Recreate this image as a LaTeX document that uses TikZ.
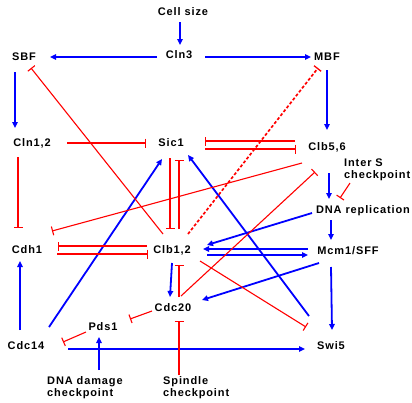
\documentclass[tikz,border=0pt]{standalone}
\usepackage{fontspec}
\setmainfont{Liberation Sans}[LetterSpace=8]
\usetikzlibrary{arrows.meta,calc}
\definecolor{actblue}{RGB}{0,0,255}
\definecolor{inhred}{RGB}{255,0,0}
\tikzset{
  lbl/.style={font=\fontsize{11}{12}\selectfont\bfseries, inner sep=0pt, align=left},
  act/.style={draw=actblue, line width=1.8pt, -{Triangle[length=6pt,width=5.5pt]}},
  inh/.style={draw=inhred, line width=1.1pt, -{Bar[width=9pt,line width=1.1pt]}},
  inhdash/.style={draw=inhred, line width=1.7pt, dash pattern=on 3pt off 2pt, -{Bar[width=9pt,line width=1.3pt]}},
}
\newcommand{\at}[3]{([shift={(#2,#3)}]#1)}
\begin{document}
\begin{tikzpicture}[x=1pt,y=-1pt]
\path[fill=white,use as bounding box] (0,0) rectangle (412,402);
% nodes
\node[lbl] (cs) at (183,12) {Cell size};
\node[lbl] (cln3) at (179,55) {Cln3};
\node[lbl] (sbf) at (24,57) {SBF};
\node[lbl] (mbf) at (327,57) {MBF};
\node[lbl] (cln12) at (32,143) {Cln1,2};
\node[lbl] (sic1) at (171,143) {Sic1};
\node[lbl] (clb56) at (327,147) {Clb5,6};
\node[lbl,anchor=west] (inters) at (344,170) {Inter S\\checkpoint};
\node[lbl] (dnarep) at (363,211) {DNA replication};
\node[lbl] (cdh1) at (27,250) {Cdh1};
\node[lbl] (clb12) at (172,250) {Clb1,2};
\node[lbl] (mcm1) at (348,251) {Mcm1/SFF};
\node[lbl] (cdc20) at (173,308) {Cdc20};
\node[lbl] (pds1) at (103,327) {Pds1};
\node[lbl] (cdc14) at (26,346) {Cdc14};
\node[lbl] (swi5) at (331,346) {Swi5};
\node[lbl,anchor=west] (dnad) at (47,388) {DNA damage\\checkpoint};
\node[lbl,anchor=west] (spin) at (163,388) {Spindle\\checkpoint};
% activations
\draw[act] \at{cs.center}{-3}{10} -- \at{cln3.center}{1}{-10};
\draw[act] \at{cln3.center}{-22}{2} -- \at{sbf.center}{26}{0};
\draw[act] \at{cln3.center}{26}{2} -- \at{mbf.center}{-16}{0};
\draw[act] \at{sbf.center}{-9}{15} -- \at{cln12.center}{-17}{-15};
\draw[act] \at{mbf.center}{0}{13} -- \at{clb56.center}{0}{-17};
\draw[act] \at{clb56.center}{2}{26} -- \at{dnarep.center}{-34}{-12};
\draw[act] \at{dnarep.center}{-32}{9} -- \at{mcm1.center}{-17}{-11};
\draw[act] \at{mcm1.center}{-17}{16} -- \at{swi5.center}{1}{-16};
\draw[act] \at{dnarep.center}{-51}{2} -- \at{clb12.center}{35}{-5};
\draw[act] \at{mcm1.center}{-40}{-2} -- \at{clb12.center}{31}{-1};
\draw[act] \at{clb12.center}{35}{5} -- \at{mcm1.center}{-40}{4};
\draw[act] \at{mcm1.center}{-29}{12} -- \at{cdc20.center}{29}{-8};
\draw[act] \at{swi5.center}{-22}{-30} -- \at{sic1.center}{17}{12};
\draw[act] \at{cdc14.center}{23}{-19} -- \at{sic1.center}{-9}{16};
\draw[act] \at{cdc14.center}{-6}{-16} -- \at{cdh1.center}{-7}{11};
\draw[act] \at{clb12.center}{0}{13} -- \at{cdc20.center}{-3}{-11};
\draw[act] \at{cdc14.center}{42}{3} -- \at{swi5.center}{-26}{3};
\draw[act] \at{dnad.west}{52}{-18} -- \at{pds1.center}{-4}{10};
% inhibitions
\draw[inh] \at{clb12.center}{-9}{-16} -- \at{sbf.center}{7}{11};
\draw[inh] \at{cln12.center}{35}{0} -- \at{sic1.center}{-25}{0};
\draw[inh] \at{cln12.center}{-14}{14} -- \at{cdh1.center}{-9}{-22};
\draw[inh] \at{clb56.center}{-32}{-6} -- \at{sic1.center}{34}{-2};
\draw[inh] \at{sic1.center}{34}{6} -- \at{clb56.center}{-31}{2};
\draw[inh] \at{sic1.center}{-1}{15} -- \at{clb12.center}{-2}{-21};
\draw[inh] \at{clb12.center}{7}{-21} -- \at{sic1.center}{8}{17};
\draw[inh] \at{clb12.center}{-25}{-4} -- \at{cdh1.center}{31}{-4};
\draw[inh] \at{cdh1.center}{30}{4} -- \at{clb12.center}{-24}{4};
\draw[inh] \at{clb56.center}{-25}{16} -- \at{cdh1.center}{25}{-19};
\draw[inh] \at{cdc20.center}{6}{-11} -- \at{clb12.center}{7}{15};
\draw[inh] \at{cdc20.center}{8}{-12} -- \at{clb56.center}{-12}{25};
\draw[inh] \at{clb12.center}{28}{11} -- \at{swi5.center}{-25}{-19};
\draw[inhdash] \at{clb12.center}{16}{-16} -- \at{mbf.center}{-9}{11};
\draw[inh] \at{cdc20.center}{-21}{3} -- \at{pds1.center}{27}{-8};
\draw[inh] \at{pds1.center}{-17}{5} -- \at{cdc14.center}{37}{-4};
\draw[inh] \at{spin.west}{16}{-13} -- \at{cdc20.center}{6}{13};
\draw[inh] \at{inters.west}{6}{13} -- \at{dnarep.center}{-23}{-13};
\end{tikzpicture}
\end{document}
